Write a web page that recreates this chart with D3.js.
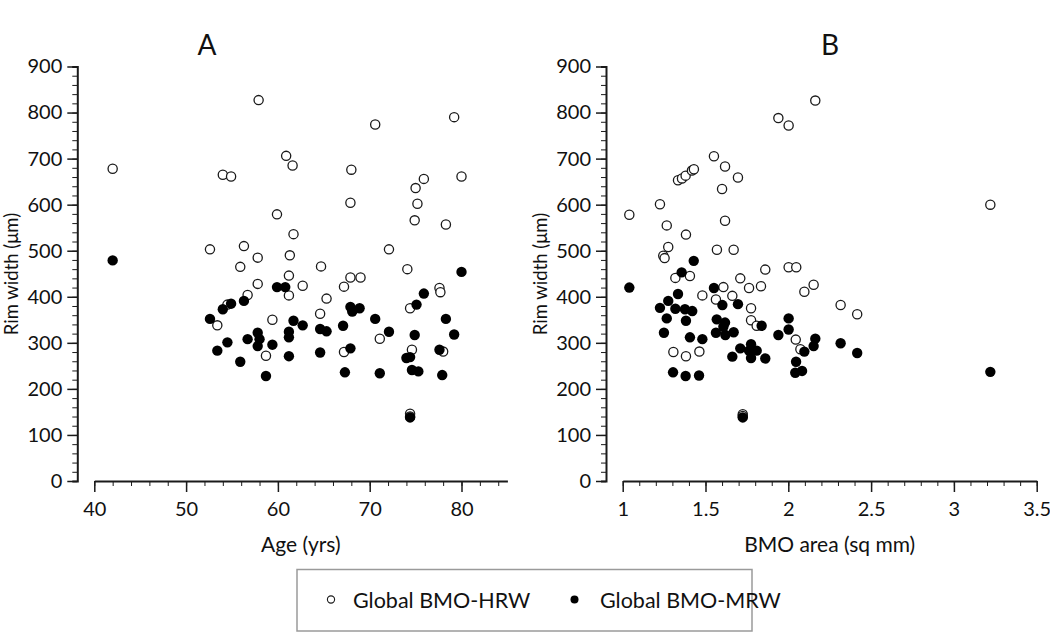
<!DOCTYPE html>
<html><head><meta charset="utf-8">
<script src="https://cdn.jsdelivr.net/npm/d3@7"></script>
<style>
body{margin:0;background:#fff;}
text{font-family:Lato,"Open Sans",sans-serif;fill:#111;}
</style></head>
<body><svg id="c" width="1050" height="634"></svg>
<script>
// Panel A: Age (yrs) vs rim width (µm)
const ageHRW = [42.0,57.9,60.9,61.6,54.0,54.9,59.9,61.7,52.6,56.3,57.8,61.3,55.9,64.7,61.2,57.8,62.7,61.2,56.7,54.5,53.4,59.4,58.7,64.6,65.3,67.2,67.9,69.0,67.2,71.1,74.4,77.6,77.7,74.6,78.0,74.4,74.4,70.6,79.2,68.0,67.9,75.9,75.0,80.0,75.2,74.9,78.3,72.1,74.1];
const hrwA   = [678,827,706,685,665,661,579,536,503,510,485,490,465,466,446,428,424,403,404,383,338,350,272,363,396,422,442,442,280,309,375,419,410,285,281,146,140,774,790,676,604,656,636,661,602,566,557,503,460];
const ageMRW = [42.0,59.9,60.8,54.0,54.9,56.3,52.6,53.4,54.5,55.9,56.7,57.8,58.0,57.8,59.4,58.7,61.7,61.2,61.2,61.2,62.7,64.6,64.6,65.3,67.1,67.9,68.1,68.9,67.9,67.3,70.6,72.1,71.1,75.1,75.9,78.3,79.2,74.9,74.4,74.0,77.6,74.6,75.3,77.9,74.4,80.0];
const mrwA   = [479,421,421,373,385,391,352,283,301,259,308,322,308,293,296,228,348,324,312,271,338,330,279,325,337,378,368,375,288,236,352,324,234,383,407,352,318,317,269,267,285,241,238,230,138,454];
// Panel B: BMO area (sq mm) vs rim width (µm)
const bmoHRW = [2.163,1.940,2.002,1.551,1.618,1.696,1.334,1.358,1.380,1.418,1.430,1.600,1.225,1.040,1.266,1.618,1.382,1.275,1.245,1.253,1.569,1.670,1.861,2.002,2.048,1.318,1.406,1.710,1.608,1.763,1.835,2.153,2.097,1.481,1.563,1.662,1.775,1.775,1.809,2.045,2.073,2.316,2.416,3.220,1.306,1.382,1.463,1.725,1.725];
const hrwB   = [826,788,772,705,683,659,653,657,663,674,677,634,601,578,555,565,535,508,489,484,502,502,459,464,464,441,445,440,421,419,423,426,411,403,394,402,375,349,337,307,286,382,362,600,280,271,281,145,141];
const bmoMRW = [1.040,1.429,1.356,1.551,1.334,1.275,1.225,1.318,1.376,1.420,1.602,1.696,1.266,1.382,1.568,1.618,1.608,1.249,1.563,1.620,1.670,1.839,2.002,2.002,1.940,1.406,1.481,2.163,2.153,2.097,2.316,2.416,3.220,1.710,1.775,1.763,1.809,1.775,1.662,1.861,2.047,2.042,2.083,1.304,1.380,1.461,1.725];
const mrwB   = [420,478,453,419,406,391,376,374,373,369,382,384,353,348,351,344,335,322,322,317,323,337,353,329,317,312,308,309,293,281,299,278,237,288,297,283,283,267,270,266,259,235,239,236,228,229,138];

const yTicks = [0,100,200,300,400,500,600,700,800,900];
const xTicksA = [40,50,60,70,80];
const xTicksB = [1,1.5,2,2.5,3,3.5];
const titles = ["A","B"];
const xLabels = ["Age (yrs)","BMO area (sq mm)"];
const yLabel = "Rim width (μm)";
const legendLabels = ["Global BMO-HRW","Global BMO-MRW"];

const svg = d3.select("#c");
const y = d3.scaleLinear([0,900],[481,66.5]);
const ink = "#1a1a1a";

function panel(cfg){
  const g = svg.append("g");
  const x = d3.scaleLinear(cfg.xdom, cfg.xrange);
  g.append("g").attr("transform",`translate(${cfg.yx},0)`)
    .call(d3.axisLeft(y).tickValues(d3.range(0,901,20)).tickSize(5).tickFormat(""))
    .call(a=>{a.select(".domain").attr("stroke",ink).attr("stroke-width",2);a.selectAll("line").attr("stroke",ink).attr("stroke-width",1);});
  g.append("g").attr("transform",`translate(${cfg.yx},0)`)
    .call(d3.axisLeft(y).tickValues(yTicks).tickSize(10).tickPadding(5))
    .call(a=>{a.select(".domain").remove();a.selectAll("line").attr("stroke",ink).attr("stroke-width",1.5);
      a.selectAll("text").attr("font-size",20).attr("font-family","Lato").attr("fill","#111");});
  g.append("g").attr("transform",`translate(0,481)`)
    .call(d3.axisBottom(x).tickValues(cfg.minor).tickSize(5).tickFormat("").tickSizeOuter(0))
    .call(a=>{a.select(".domain").attr("stroke",ink).attr("stroke-width",2);a.selectAll("line").attr("stroke",ink).attr("stroke-width",1);});
  g.append("g").attr("transform",`translate(0,481)`)
    .call(d3.axisBottom(x).tickValues(cfg.major).tickSize(11).tickPadding(10).tickFormat(cfg.fmt))
    .call(a=>{a.select(".domain").remove();a.selectAll("line").attr("stroke",ink).attr("stroke-width",1.5);
      a.selectAll("text").attr("font-size",20).attr("font-family","Lato").attr("fill","#111");});
  g.append("text").attr("x",(cfg.xrange[0]+cfg.xrange[1])/2).attr("y",552).attr("text-anchor","middle")
    .attr("font-size",21).text(cfg.xlab);
  g.append("text").attr("transform",`translate(${cfg.ylabx},274) rotate(-90)`).attr("text-anchor","middle")
    .attr("dy","0.35em").attr("font-size",18.5).text(yLabel);
  g.append("text").attr("x",cfg.titlex).attr("y",55).attr("text-anchor","middle").attr("font-size",28).text(cfg.title);
  g.append("g").selectAll("circle").data(d3.zip(cfg.xo,cfg.yo)).join("circle")
    .attr("cx",d=>x(d[0])).attr("cy",d=>y(d[1])).attr("r",4.6)
    .attr("fill","#fff").attr("stroke",ink).attr("stroke-width",1.3);
  g.append("g").selectAll("circle").data(d3.zip(cfg.xf,cfg.yf)).join("circle")
    .attr("cx",d=>x(d[0])).attr("cy",d=>y(d[1])).attr("r",5.2)
    .attr("fill","#000");
}

panel({xdom:[40,85],xrange:[94.3,507.4],yx:77.3,ylabx:12,titlex:207,title:titles[0],
  major:xTicksA,minor:d3.range(40,85,2),fmt:d3.format("d"),xlab:xLabels[0],
  xo:ageHRW,yo:hrwA,xf:ageMRW,yf:mrwA});
panel({xdom:[1,3.5],xrange:[622.7,1036.7],yx:606,ylabx:541,titlex:830,title:titles[1],
  major:xTicksB,minor:d3.range(10,36,1).map(v=>v/10),fmt:d=>String(d),xlab:xLabels[1],
  xo:bmoHRW,yo:hrwB,xf:bmoMRW,yf:mrwB});

const lg = svg.append("g");
lg.append("rect").attr("x",297).attr("y",569.5).attr("width",455).attr("height",61.5)
  .attr("fill","#fff").attr("stroke","#9a9a9a").attr("stroke-width",1.5);
const lx = [331,574.5], tx=[353,600];
legendLabels.forEach((t,i)=>{
  lg.append("circle").attr("cx",lx[i]).attr("cy",599.5).attr("r",i?4:3.6)
    .attr("fill",i?"#000":"#fff").attr("stroke",ink).attr("stroke-width",i?0:1.1);
  lg.append("text").attr("x",tx[i]).attr("y",607.5).attr("font-size",21.5).text(t);
});
</script></body></html>
